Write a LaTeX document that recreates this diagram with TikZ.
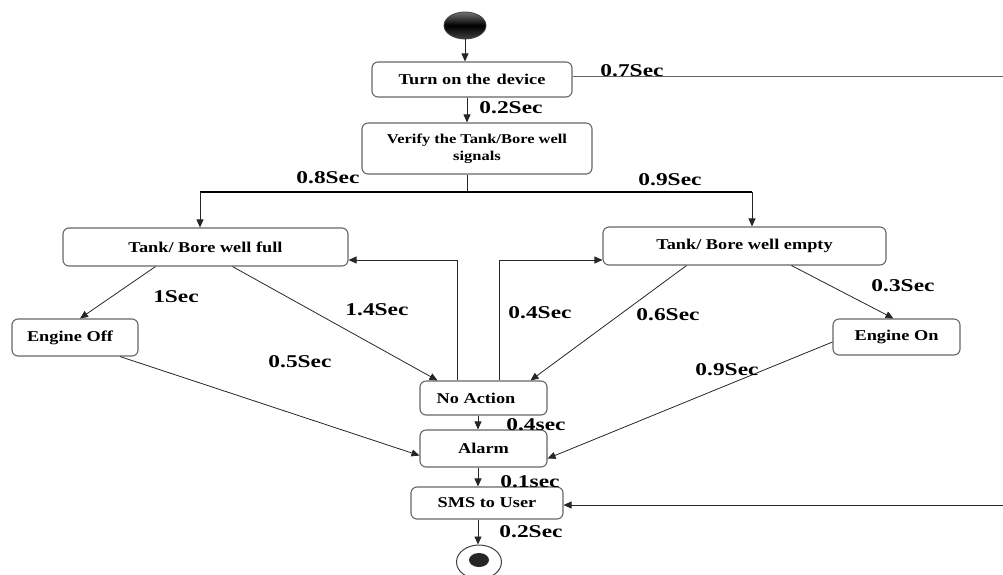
\documentclass[tikz,border=0pt]{standalone}
\usepackage{fontspec}
\setmainfont{Liberation Serif}
\usetikzlibrary{arrows.meta,calc,shapes.geometric}
\newcommand{\bx}[1]{\scalebox{1.22}[1]{#1}}
\newcommand{\lx}[1]{\scalebox{1.3}[1]{#1}}
\begin{document}
\begin{tikzpicture}[x=1pt,y=-1pt,
  state/.style={draw=black!60,line width=1.1pt,rounded corners=6pt,fill=white,
    font=\fontsize{15}{17}\selectfont\bfseries,align=center,inner sep=0pt},
  lbl/.style={font=\fontsize{18}{20}\selectfont\bfseries,inner sep=0pt},
  conn/.style={draw=black!85,line width=0.8pt},
  arr/.style={conn,-{Triangle[length=8pt,width=7pt]}}]
\useasboundingbox (0,0) rectangle (1003,574);
% nodes
\node[ellipse,minimum width=42pt,minimum height=27pt,inner sep=0pt,draw=black!75,line width=0.8pt,
  top color=black!55,bottom color=black!75,middle color=black] (start) at (465,25.5) {};
\node[state,minimum width=200pt,minimum height=35pt] (turn) at (472,79.5) {\bx{Turn on the\,\,device}};
\node[state,minimum width=230pt,minimum height=51pt,font=\fontsize{13.5}{16.5}\selectfont\bfseries] (verify) at (477,148.5) {\bx{\begin{tabular}{@{}c@{}}Verify the Tank/Bore well\\signals\end{tabular}}};
\node[state,minimum width=285pt,minimum height=38pt] (full) at (205.5,247) {\bx{Tank/ Bore well full}};
\node[state,minimum width=283pt,minimum height=38pt] (empty) at (744.5,246) {\bx{Tank/ Bore well empty}};
\node[state,minimum width=126pt,minimum height=37pt] (eoff) at (75,337.5) {\bx{Engine Off}\hspace*{10pt}};
\node[state,minimum width=127pt,minimum height=36pt] (eon) at (896.5,337) {\bx{Engine On}};
\node[state,minimum width=127pt,minimum height=34pt] (noact) at (483.5,398) {\bx{No Action}\hspace*{15pt}};
\node[state,minimum width=127pt,minimum height=37pt] (alarm) at (483.5,448.5) {\bx{Alarm}};
\node[state,minimum width=152pt,minimum height=32pt] (sms) at (487,503) {\bx{SMS to User}};
\node[ellipse,draw=black!75,line width=1pt,minimum width=45pt,minimum height=34pt,inner sep=0pt,fill=white] (end) at (479,562) {};
\node[ellipse,fill=black!85,minimum width=20pt,minimum height=14pt,inner sep=0pt] (enddot) at (479,560) {};
% coordinates
\coordinate (spine) at (467,0);
\coordinate (ax) at (478,0);
\coordinate (barL) at (200,192);
\coordinate (barR) at (752,192);
\coordinate (rt1) at (1003,76);
\coordinate (rt2) at (1003,505);
% connectors
\draw[arr] (start.south) -- (start.south |- turn.north);
\draw[arr] (turn.south -| spine) -- (verify.north -| spine);
\draw[conn] (verify.south -| spine) -- (spine |- barL);
\draw[line width=2.8pt,black] (barL) -- (barR);
\draw[arr] (barL) -- (barL |- full.north);
\draw[arr] (barR) -- (barR |- empty.north);
\draw[conn,draw=black!60] (turn.east |- rt1) -- (rt1);
\draw[arr] (rt2) -- (sms.east |- rt2);
\draw[arr] ([xshift=-50pt]full.south) -- ([xshift=5pt]eoff.north);
\draw[arr] ([xshift=27pt]full.south) -- ([xshift=-46pt]noact.north);
\draw[arr] ([xshift=-26pt]noact.north) |- ([yshift=-13pt]full.east);
\draw[arr] ([xshift=16pt]noact.north) |- ([yshift=-14pt]empty.west);
\draw[arr] ([xshift=-58pt]empty.south) -- ([xshift=47pt]noact.north);
\draw[arr] ([xshift=47pt]empty.south) -- ([xshift=-3pt]eon.north);
\draw[arr] ([xshift=45pt]eoff.south) -- ([yshift=-7pt]alarm.west);
\draw[arr] ([yshift=-5pt]eon.west) -- ([yshift=-10pt]alarm.east);
\draw[arr] (noact.south -| ax) -- (alarm.north -| ax);
\draw[arr] (alarm.south -| ax) -- (sms.north -| ax);
\draw[arr] (sms.south -| ax) -- (end.north -| ax);
% labels
\node[lbl] (l07) at (632,71) {\lx{0.7Sec}};
\node[lbl] (l02a) at (511,108) {\lx{0.2Sec}};
\node[lbl] (l08) at (328,178) {\lx{0.8Sec}};
\node[lbl] (l09a) at (670,180) {\lx{0.9Sec}};
\node[lbl] (l1) at (176,297) {\lx{1Sec}};
\node[lbl] (l14) at (377,310) {\lx{1.4Sec}};
\node[lbl] (l04a) at (540,313) {\lx{0.4Sec}};
\node[lbl] (l06) at (668,315) {\lx{0.6Sec}};
\node[lbl] (l03) at (903,286) {\lx{0.3Sec}};
\node[lbl] (l09b) at (727,370) {\lx{0.9Sec}};
\node[lbl] (l05) at (300,362) {\lx{0.5Sec}};
\node[lbl] (l04b) at (536,425) {\lx{0.4sec}};
\node[lbl] (l01) at (530,482) {\lx{0.1sec}};
\node[lbl] (l02b) at (531,532) {\lx{0.2Sec}};
\end{tikzpicture}
\end{document}
